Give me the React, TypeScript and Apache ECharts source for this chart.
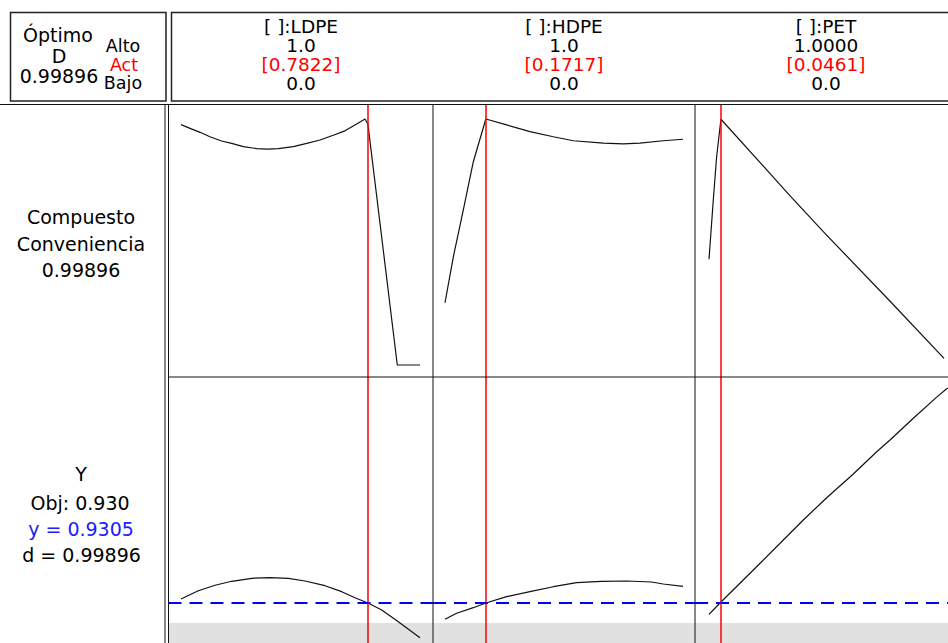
import React, { useEffect, useRef } from "react";
import * as echarts from "echarts";

// ---- data ----
const factors = ["LDPE", "HDPE", "PET"];
const highLabels = ["1.0", "1.0", "1.0000"];
const lowLabels = ["0.0", "0.0", "0.0"];
const currentSettings = [0.7822, 0.1717, 0.0461];
const currentLabels = ["[0.7822]", "[0.1717]", "[0.0461]"];
const compositeLabel = "0.99896";
const targetLabel = "0.930";
const predictedY = 0.9305;
const lowerBound = 0.887;

// composite desirability traces (factor level, d)
const ldpeDLevels = [0, 0.038, 0.08, 0.121, 0.17, 0.212, 0.261, 0.317, 0.362, 0.407, 0.47, 0.526, 0.582, 0.637, 0.686, 0.735, 0.77, 0.782, 0.905, 1.0];
const ldpeD = [0.973, 0.958, 0.942, 0.924, 0.907, 0.897, 0.884, 0.876, 0.874, 0.876, 0.884, 0.897, 0.911, 0.93, 0.948, 0.976, 0.996, 0.975, 0, 0];
const hdpeDLevels = [0, 0.035, 0.077, 0.119, 0.1717, 0.259, 0.357, 0.455, 0.539, 0.665, 0.749, 0.819, 0.917, 1.0];
const hdpeD = [0.252, 0.438, 0.628, 0.823, 0.996, 0.972, 0.945, 0.924, 0.908, 0.898, 0.895, 0.898, 0.908, 0.914];
const petDLevels = [0, 0.018, 0.032, 0.05, 0.339, 0.479, 0.759, 0.985];
const petD = [0.428, 0.668, 0.843, 0.995, 0.686, 0.54, 0.258, 0.027];

// response Y traces (factor level, Y)
const ldpeYLevels = [0, 0.0724, 0.1423, 0.2121, 0.2958, 0.372, 0.449, 0.5188, 0.6025, 0.6724, 0.728, 0.7822, 0.8398, 0.9092, 1.0];
const ldpeY = [0.9392, 0.9572, 0.969, 0.9777, 0.9842, 0.9855, 0.9842, 0.9783, 0.9681, 0.9551, 0.942, 0.9305, 0.9153, 0.8898, 0.8551];
const hdpeYLevels = [0, 0.049, 0.119, 0.1717, 0.259, 0.357, 0.455, 0.553, 0.658, 0.763, 0.868, 0.917, 1.0];
const hdpeY = [0.8951, 0.9081, 0.9203, 0.9305, 0.9442, 0.9551, 0.9659, 0.9746, 0.9777, 0.9783, 0.9762, 0.9718, 0.9668];
const petYLevels = [0, 0.0461, 0.1995, 0.3952, 0.4933, 0.6048, 0.7029, 0.7586, 0.8563, 0.9543, 1.0];
const petY = [0.9059, 0.9305, 1.0094, 1.1109, 1.1594, 1.2109, 1.2594, 1.2848, 1.332, 1.378, 1.398];

const dLevels = [ldpeDLevels, hdpeDLevels, petDLevels];
const dValues = [ldpeD, hdpeD, petD];
const yLevels = [ldpeYLevels, hdpeYLevels, petYLevels];
const yValues = [ldpeY, hdpeY, petY];

// ---- layout ----
const colLeft = [168.5, 433, 695];
const colWidth = [264.5, 262, 253];
const colZero = [181, 445, 709];
const colScale = [239, 238, 238.6];
const topRow = { top: 105, height: 272, zeroPx: 365, scale: 247 };
const botRow = { top: 377, height: 266, refPx: 603, scale: 460 };

const FONT = '"DejaVu Sans", Verdana, sans-serif';

function zip(a: number[], b: number[]) {
  return a.map((v, i) => [v, b[i]]);
}

export default function App() {
  const ref = useRef<HTMLDivElement>(null);
  useEffect(() => {
    document.body.style.margin = "0";
    if (!ref.current) return;
    const chart = echarts.init(ref.current, undefined, { renderer: "svg" });

    const grids: any[] = [];
    const xAxes: any[] = [];
    const yAxes: any[] = [];
    const series: any[] = [];

    const topMin = -(topRow.top + topRow.height - topRow.zeroPx) / topRow.scale;
    const topMax = (topRow.zeroPx - topRow.top) / topRow.scale;
    const botMin = predictedY - (botRow.top + botRow.height - botRow.refPx) / botRow.scale;
    const botMax = predictedY + (botRow.refPx - botRow.top) / botRow.scale;

    for (let row = 0; row < 2; row++) {
      for (let c = 0; c < 3; c++) {
        const idx = row * 3 + c;
        grids.push({
          show: false,
          containLabel: false,
          left: colLeft[c],
          width: colWidth[c],
          top: row === 0 ? topRow.top : botRow.top,
          height: row === 0 ? topRow.height : botRow.height,
        });
        xAxes.push({
          type: "value",
          gridIndex: idx,
          min: (colLeft[c] - colZero[c]) / colScale[c],
          max: (colLeft[c] + colWidth[c] - colZero[c]) / colScale[c],
          show: false,
          splitLine: { show: false },
        });
        yAxes.push({
          type: "value",
          gridIndex: idx,
          min: row === 0 ? topMin : botMin,
          max: row === 0 ? topMax : botMax,
          show: false,
          splitLine: { show: false },
        });
      }
    }

    for (let c = 0; c < 3; c++) {
      series.push({
        type: "line",
        name: factors[c] + " d",
        xAxisIndex: c,
        yAxisIndex: c,
        data: zip(dLevels[c], dValues[c]),
        showSymbol: false,
        symbol: "none",
        silent: true,
        lineStyle: { color: "#111", width: 1.2 },
        markLine: {
          silent: true,
          symbol: ["none", "none"],
          label: { show: false },
          lineStyle: { color: "#ff0000", width: 1.5, type: "solid" },
          data: [{ xAxis: currentSettings[c] }],
        },
      });
      series.push({
        type: "line",
        name: factors[c] + " Y",
        xAxisIndex: c + 3,
        yAxisIndex: c + 3,
        data: zip(yLevels[c], yValues[c]),
        showSymbol: false,
        symbol: "none",
        silent: true,
        lineStyle: { color: "#111", width: 1.2 },
        markArea: {
          silent: true,
          itemStyle: { color: "#e1e1e1" },
          data: [[{ yAxis: botMin }, { yAxis: lowerBound }]],
        },
        markLine: {
          silent: true,
          symbol: ["none", "none"],
          label: { show: false },
          data: [
            { xAxis: currentSettings[c], lineStyle: { color: "#ff0000", width: 1.5, type: "solid" } },
            { yAxis: predictedY, lineStyle: { color: "#0000ff", width: 2, type: [13, 8] } },
          ],
        },
      });
    }

    const txt = (text: string, x: number, y: number, size: number, fill = "#000") => ({
      type: "text",
      x,
      y,
      z: 100,
      style: {
        text,
        fill,
        font: `${size}px ${FONT}`,
        align: "center",
        verticalAlign: "middle",
        textAlign: "center",
        textVerticalAlign: "middle",
      },
    });
    const line = (x1: number, y1: number, x2: number, y2: number, w = 1, stroke = "#111") => ({
      type: "line",
      z: 100,
      shape: { x1, y1, x2, y2 },
      style: { stroke, lineWidth: w },
    });

    const graphics: any[] = [
      { type: "rect", z: 100, shape: { x: 10.5, y: 12.5, width: 155.5, height: 88.5 }, style: { fill: "none", stroke: "#222", lineWidth: 1.5 } },
      { type: "rect", z: 100, shape: { x: 171.5, y: 12.5, width: 800, height: 88.5 }, style: { fill: "none", stroke: "#222", lineWidth: 1.5 } },
      line(0, 104.5, 948, 104.5),
      line(165, 104.5, 165, 643),
      line(168.5, 104.5, 168.5, 643),
      line(433, 104.5, 433, 643),
      line(695, 104.5, 695, 643),
      line(168.5, 377, 948, 377),
      txt("Óptimo", 58, 35, 19),
      txt("D", 59, 56, 19),
      txt(compositeLabel, 59, 76, 19),
      txt("Alto", 123, 46, 17.5),
      txt("Act", 124, 64.5, 17.5, "#ff0000"),
      txt("Bajo", 123, 83, 17.5),
      txt("Compuesto", 81, 217, 19),
      txt("Conveniencia", 81, 243.5, 19),
      txt(compositeLabel, 81, 270, 19),
      txt("Y", 81, 473.5, 19),
      txt("Obj: " + targetLabel, 80, 502.5, 19),
      txt("y = " + predictedY.toFixed(4), 81, 528.5, 19, "#2020ff"),
      txt("d = " + compositeLabel, 81.5, 554.5, 19),
    ];
    const centers = [301, 564, 826];
    for (let c = 0; c < 3; c++) {
      graphics.push(txt("[ ]:" + factors[c], centers[c], 26, 18.5));
      graphics.push(txt(highLabels[c], centers[c], 45, 18.5));
      graphics.push(txt(currentLabels[c], centers[c], 64, 18.5, "#ff0000"));
      graphics.push(txt(lowLabels[c], centers[c], 83, 18.5));
    }

    chart.setOption({
      animation: false,
      backgroundColor: "#fff",
      grid: grids,
      xAxis: xAxes,
      yAxis: yAxes,
      series,
      graphic: { elements: graphics },
    });
    return () => chart.dispose();
  }, []);
  return <div ref={ref} style={{ width: 948, height: 643 }} />;
}
